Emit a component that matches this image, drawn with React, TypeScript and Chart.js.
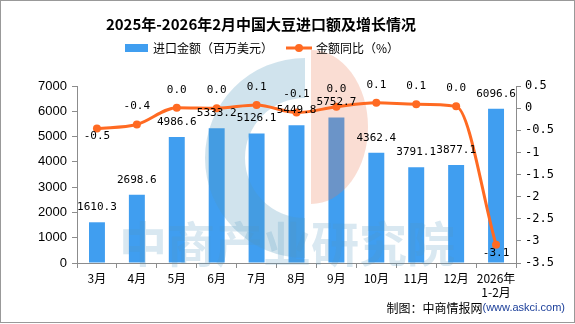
import React, { useEffect, useRef } from "react";
import { Chart, registerables } from "chart.js";

Chart.register(...registerables);

const titleText = "2025年-2026年2月中国大豆进口额及增长情况";
const seriesBarName = "进口金额（百万美元）";
const seriesLineName = "金额同比（%）";
const sourceMain = "制图：中商情报网";
const sourceUrl = "(www.askci.com)";
const watermarkText = "中商产业研究院";

const categories: (string | string[])[] = [
  "3月", "4月", "5月", "6月", "7月", "8月", "9月", "10月", "11月", "12月", ["2026年", "1-2月"],
];
const importValues = [1610.3, 2698.6, 4986.6, 5333.2, 5126.1, 5449.8, 5752.7, 4362.4, 3791.1, 3877.1, 6096.6];
const yoyValues = [-0.46, -0.37, 0.01, 0.0, 0.07, -0.1, 0.03, 0.12, 0.09, 0.04, -3.09];
const yoyLabelSide = ["below", "above", "above", "above", "above", "above", "above", "above", "above", "above", "below"];

const leftMin = 0;
const leftMax = 7000;
const leftStep = 1000;
const rightMin = -3.5;
const rightMax = 0.5;
const rightStep = 0.5;

const BAR_COLOR = "#409ef0";
const LINE_COLOR = "#ff6a22";
const AXIS_COLOR = "#8c8c8c";
const CJK = '"Noto Sans CJK SC", "Noto Sans", sans-serif';
const MONO = '"DejaVu Sans Mono", monospace';

const watermarkPlugin = {
  id: "watermark",
  afterDatasetDraw(chart: any, args: any) {
    if (args.meta.type !== "bar") return;
    const ctx = chart.ctx;
    ctx.save();
    // blue left half ring
    ctx.fillStyle = "rgba(80,150,190,0.27)";
    ctx.beginPath();
    ctx.arc(305, 158, 100, Math.PI / 2, Math.PI * 1.5, false);
    ctx.arc(305, 158, 60, Math.PI * 1.5, Math.PI / 2, true);
    ctx.closePath();
    ctx.fill();
    // orange right half ellipse
    ctx.fillStyle = "rgba(235,120,80,0.25)";
    ctx.beginPath();
    ctx.ellipse(311, 127, 57, 77, 0, -Math.PI / 2, Math.PI / 2, false);
    ctx.closePath();
    ctx.fill();
    // text
    ctx.fillStyle = "rgba(80,150,190,0.22)";
    ctx.font = `bold 48px ${CJK}`;
    ctx.textAlign = "center";
    ctx.textBaseline = "middle";
    ctx.fillText(watermarkText, 287, 244);
    ctx.restore();
  },
};

const labelsPlugin = {
  id: "valueLabels",
  afterDatasetsDraw(chart: any) {
    const ctx = chart.ctx;
    ctx.save();
    ctx.fillStyle = "#000";
    ctx.font = `11px ${MONO}`;
    ctx.textAlign = "center";
    ctx.textBaseline = "middle";
    const barMeta = chart.getDatasetMeta(0);
    barMeta.data.forEach((el: any, i: number) => {
      ctx.fillText(importValues[i].toFixed(1), el.x, el.y - 15);
    });
    const lineMeta = chart.getDatasetMeta(1);
    lineMeta.data.forEach((el: any, i: number) => {
      const dy = yoyLabelSide[i] === "above" ? -18 : 8;
      ctx.fillText(yoyValues[i].toFixed(1), el.x, el.y + dy);
    });
    ctx.restore();
  },
};

const decorPlugin = {
  id: "decor",
  afterDraw(chart: any) {
    const ctx = chart.ctx;
    ctx.save();
    // title
    ctx.fillStyle = "#000";
    ctx.font = `bold 15px ${CJK}`;
    ctx.textAlign = "center";
    ctx.textBaseline = "middle";
    ctx.fillText(titleText, 261, 24);
    // legend
    ctx.fillStyle = BAR_COLOR;
    ctx.fillRect(125, 44, 23, 8);
    ctx.fillStyle = "#000";
    ctx.font = `12px ${CJK}`;
    ctx.textAlign = "left";
    ctx.fillText(seriesBarName, 153, 48);
    ctx.strokeStyle = LINE_COLOR;
    ctx.lineWidth = 3;
    ctx.beginPath();
    ctx.moveTo(286, 48);
    ctx.lineTo(312, 48);
    ctx.stroke();
    ctx.fillStyle = LINE_COLOR;
    ctx.beginPath();
    ctx.arc(299, 48, 4, 0, Math.PI * 2);
    ctx.fill();
    ctx.fillStyle = "#000";
    ctx.fillText(seriesLineName, 316, 48);
    // source
    ctx.textAlign = "right";
    ctx.font = '11px "Liberation Sans", Arial, sans-serif';
    ctx.fillStyle = "#1c3f9a";
    ctx.fillText(sourceUrl, 565, 308);
    const w = ctx.measureText(sourceUrl).width;
    ctx.font = `12px ${CJK}`;
    ctx.fillStyle = "#000";
    ctx.fillText(sourceMain, 565 - w, 308);
    // frame
    ctx.strokeStyle = "#999";
    ctx.lineWidth = 1;
    ctx.strokeRect(0.5, 0.5, 574, 322);
    ctx.restore();
  },
};

export default function App() {
  const canvasRef = useRef<HTMLCanvasElement | null>(null);

  useEffect(() => {
    const canvas = canvasRef.current;
    if (!canvas) return;
    const chart = new Chart(canvas, {
      type: "bar",
      data: {
        labels: categories as any,
        datasets: [
          {
            type: "bar",
            label: seriesBarName,
            data: importValues,
            backgroundColor: BAR_COLOR,
            yAxisID: "y",
            barPercentage: 0.4,
            categoryPercentage: 1,
            order: 2,
          },
          {
            type: "line",
            label: seriesLineName,
            data: yoyValues,
            borderColor: LINE_COLOR,
            backgroundColor: LINE_COLOR,
            borderWidth: 3,
            pointRadius: 4,
            pointBackgroundColor: LINE_COLOR,
            pointBorderWidth: 0,
            cubicInterpolationMode: "monotone",
            yAxisID: "y1",
            order: 1,
          } as any,
        ],
      },
      options: {
        responsive: false,
        animation: false,
        layout: { padding: { top: 86, left: 0, right: 0, bottom: 21 } },
        plugins: {
          legend: { display: false },
          title: { display: false },
          tooltip: { enabled: false },
        },
        scales: {
          x: {
            offset: true,
            grid: {
              offset: true,
              drawOnChartArea: false,
              drawTicks: true,
              tickLength: 5,
              color: AXIS_COLOR,
            },
            border: { display: true, color: AXIS_COLOR },
            ticks: {
              color: "#000",
              font: { family: CJK, size: 12 },
              padding: 3,
              maxRotation: 0,
              autoSkip: false,
            },
            afterFit(scale: any) {
              scale.height = 40;
            },
          },
          y: {
            position: "left",
            min: leftMin,
            max: leftMax,
            grid: { drawOnChartArea: false, tickLength: 5, color: AXIS_COLOR },
            border: { display: true, color: AXIS_COLOR },
            ticks: {
              stepSize: leftStep,
              color: "#000",
              font: { family: '"Liberation Sans", Arial, sans-serif', size: 13 },
              padding: 5,
              callback: (v: any) => String(v),
            },
            afterFit(scale: any) {
              scale.width = 77;
            },
          },
          y1: {
            position: "right",
            min: rightMin,
            max: rightMax,
            grid: { drawOnChartArea: false, tickLength: 5, color: AXIS_COLOR },
            border: { display: true, color: AXIS_COLOR },
            ticks: {
              stepSize: rightStep,
              color: "#000",
              font: { family: MONO, size: 12 },
              padding: 4,
              callback: (v: any) => String(v),
            },
            afterFit(scale: any) {
              scale.width = 59;
            },
          },
        },
      },
      plugins: [watermarkPlugin, labelsPlugin, decorPlugin],
    });
    return () => chart.destroy();
  }, []);

  return (
    <div style={{ position: "fixed", left: 0, top: 0, width: 575, height: 324, background: "#fff" }}>
      <canvas ref={canvasRef} width={575} height={324} style={{ width: 575, height: 324, display: "block" }} />
    </div>
  );
}
